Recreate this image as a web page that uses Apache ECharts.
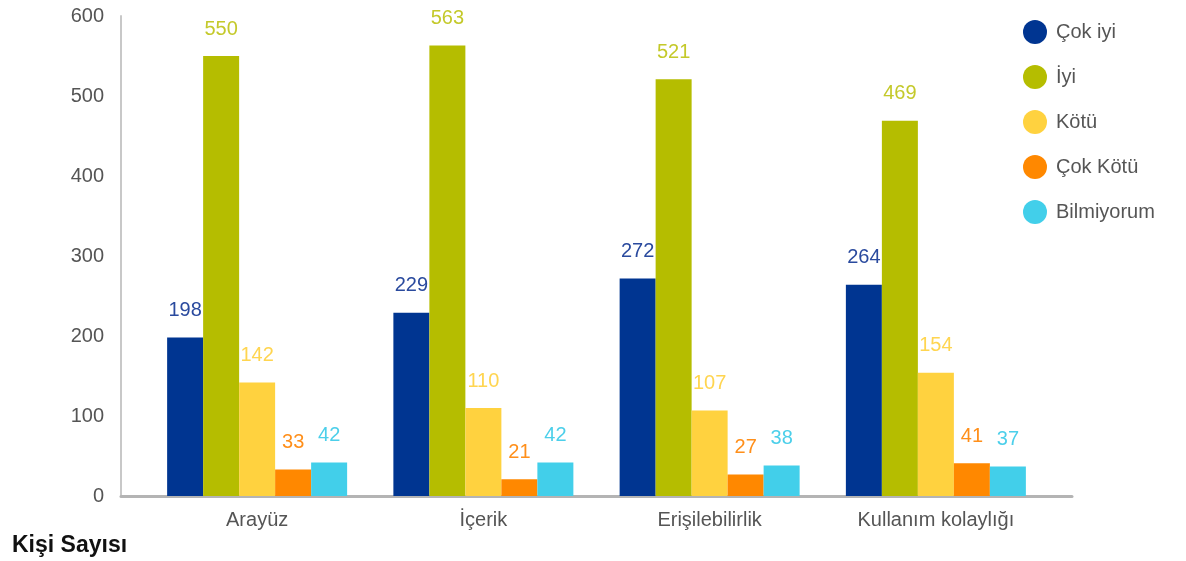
<!DOCTYPE html>
<html><head><meta charset="utf-8">
<script src="https://cdn.jsdelivr.net/npm/echarts@6/dist/echarts.min.js"></script>
<style>html,body{margin:0;padding:0;background:#fff}#c{width:1186px;height:561px}</style>
</head><body><div id="c"></div>
<script>
var categories = ['Arayüz', 'İçerik', 'Erişilebilirlik', 'Kullanım kolaylığı'];
var seriesNames = ['Çok iyi', 'İyi', 'Kötü', 'Çok Kötü', 'Bilmiyorum'];
var cokIyi = [198, 229, 272, 264];
var iyi = [550, 563, 521, 469];
var kotu = [142, 110, 107, 154];
var cokKotu = [33, 21, 27, 41];
var bilmiyorum = [42, 42, 38, 37];
var colors = ['#003591', '#b5bd00', '#ffd23f', '#ff8800', '#42cfea'];
var labelColors = ['#2a4a9e', '#c4c92a', '#ffd550', '#ff8f1a', '#4ccfea'];
var yTicks = [0, 100, 200, 300, 400, 500, 600];

var values = [cokIyi, iyi, kotu, cokKotu, bilmiyorum];
var font = 'Liberation Sans, Arial, sans-serif';
var chart = echarts.init(document.getElementById('c'));
chart.setOption({
  animation: false,
  title: {text: 'Kişi Sayısı', left: 7, top: 529, textStyle: {fontFamily: font, fontSize: 23, fontWeight: 'bold', color: '#111'}},
  legend: {
    orient: 'vertical', left: 1018, top: 15, icon: 'circle', itemWidth: 24, itemHeight: 24, itemGap: 21,
    data: seriesNames,
    textStyle: {fontFamily: font, fontSize: 20, color: '#555', padding: [0, 0, 0, 4]}
  },
  grid: [
    {left: 121, right: 114, top: 16, bottom: 65},
    {left: 144, width: 905, top: 16, bottom: 65}
  ],
  xAxis: [
    {gridIndex: 0, type: 'value', min: 0, max: 1, axisLine: {show: true, onZero: false, lineStyle: {color: '#b4b4b4', width: 3}}, axisTick: {show: false}, axisLabel: {show: false}, splitLine: {show: false}},
    {gridIndex: 1, type: 'category', data: categories, axisLine: {show: false}, axisTick: {show: false},
     axisLabel: {fontFamily: font, fontSize: 20, color: '#555', margin: 14}}
  ],
  yAxis: [
    {gridIndex: 0, type: 'value', min: yTicks[0], max: yTicks[yTicks.length - 1], interval: 100,
     axisLine: {show: true, lineStyle: {color: '#c8c8c8', width: 2}}, axisTick: {show: false}, splitLine: {show: false},
     axisLabel: {fontFamily: font, fontSize: 20, color: '#555', margin: 17}},
    {gridIndex: 1, type: 'value', min: yTicks[0], max: yTicks[yTicks.length - 1], interval: 100, show: false, splitLine: {show: false}}
  ],
  series: seriesNames.map(function (n, i) {
    return {
      name: n, type: 'bar', xAxisIndex: 1, yAxisIndex: 1, data: values[i], barWidth: 36, barGap: '0%',
      itemStyle: {color: colors[i]},
      label: {show: true, position: 'top', distance: 17, fontFamily: font, fontSize: 20, color: labelColors[i]}
    };
  })
});
</script>
</body></html>
